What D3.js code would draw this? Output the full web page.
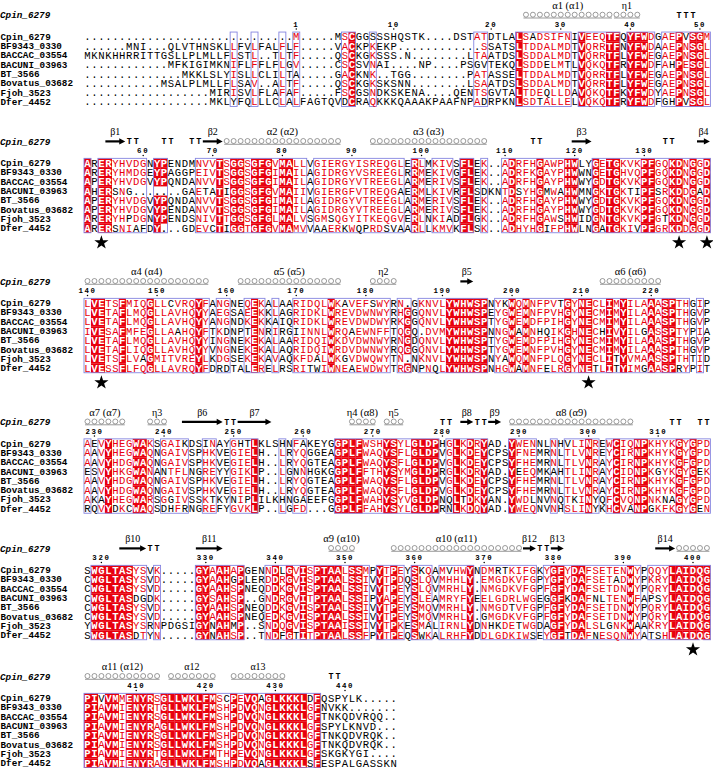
<!DOCTYPE html>
<html><head><meta charset="utf-8">
<script src="https://cdn.jsdelivr.net/npm/d3@7"></script>
<style>body{margin:0;background:#fff}svg{display:block}</style>
</head><body><svg id="c" width="713" height="768"></svg>
<script>
// ---------------- data ----------------
const names = ["Cpin_6279","BF9343_0330","BACCAC_03554","BACUNI_03963","BT_3566","Bovatus_03682","Fjoh_3523","Dfer_4452"];
const refName = "Cpin_6279";

const block1 = [
"..............................M.....MSCGGSSSHQSTK....DSTATDTLALSADSIFNIVEEQTFQYFWDGAEPVSGM",
"......MNI...QLVTHNSKLLFVLFALFLF.....VACKPKEKP............SSATSLTDDALMDTVQRRTFNYFWDAAEPNSGL",
"MKNKHHRRITTGSLLPLMLLFLSTL..TLTF.....QSCKGKSSS.N........LTAATDSLSDDALMDTVQRRTFLYFWEGAEPNSGL",
"............MFKIGIMKNIFLFFLFLGV.....CSCSVNAI....NP....PSGVTEKQLSDDELMTLVQKQTFRYFWDFAHPESGL",
"..............MKKLSLYISLLCLILTA.....GACKNK..TGG........PATASSELTDDALMDTVQRRTFLYFWEGAEPNSGL",
"...........MSALPLMLLFLSAV..ALTF.....QSCKGKSKSNN........LSAATDSLSDDALMDTVQRRTFLYFWEGAEPNSGL",
"..................MIRISVLFLAFAF.....FSCGSNDKSKENA....QENTSGVTALTDEQLLDAVQKQTFKYFWDYAEPNSGL",
"..................MKLYFQLLLCLALFAGTQVDCRAQKKKQAAAKPAAFNPADRPKNLSDTALLELVQKQTFRYFWDFGHPVSGL"];
const block2 = [
"ARERYHVDGNYPENDMNVVTSGGSGFGVMALLVGIERGYISREQGLERLMKIVSFLEK..ADRFHGAWPHWLYGETGKVKPFGQKDNGGD",
"ARERYHMDGEYPAGGPEIVTSGGSGFGIMAILAGIDRGYVSREEGLRRMEKIVGFLEK..ADRFKGAYPHWWNGETGHVQPFGQKDNGGD",
"APERYHVDGVYPQNDANVVTSGGSGFGIMAILAGIDRGYVTREEGLARMERIVSFLEK..ADRFHGAYPHWWYGDTGKVKPFGQKDNGGD",
"AHERSNG.......GAETATIGGSGFGVMAIIVGIERGFVTREQGAERMLKIVRFLSDKNTDSYHGMWAHWMNGKTGKTIPFSRKDDGAD",
"APERYHVDGVYPQNDANVVTSGGSGFGIMAILAGIDRGYVTREEGLARMERIVSFLEK..ADRFHGAYPHWWYGDTGKVKPFGQKDNGGD",
"APERYHVDGVYPENDANVVTSGGSGFGIMAILAGIDRGYVTREEGLARMERIVSFLEK..ADRFHGAYPHWWYGDTGKVKPFGQKDNGGD",
"ARERYHPDGNYPENDSNIVTTGGSGFGLMALVSGMSQGYITKEQGVERLNKIADFLGK..ADRFHGAWSHWIDGNTGKVKPFGTKDNGGD",
"ARERSNIAFDY...GDEVCTIGGTGFGVMAMVVAAERKWQPRDSVAARLLKMVKFLSK..ADHYHGIFPHWLNGATGKIVPFGRKDDGGD"];
const block3 = [
"LVETSFMIQGLLCVRQYFANGNEQEKALAARIDQLWKAVEFSWYRN.GKNVLYWHWSPNYKWQMNFPVTGYNECLIMYILAAASPTHGIP",
"LVETAFLMQGLLAVHQYYAEGSAEEKKLAGRIDKLWREVDWNWYRHGGQNVLYWHWSPEYGWEMNFPVHGYNECMIMYILAAASPTHGVP",
"LVETAFLMQGLLAVHQYYANGNDKEKKAIQRIDKLWREVDWDWYRKGGQNVLYWHWSPTYGWEMDFPIHGYNECMIMYILAAASPTHGVP",
"IVESAFMFEGLLAAHQYFTKDNPTENRIRGIINNLWRQAEWNFFTQGQ.DVMYWHWSPNNGWAMNHQIKGHNECHIVYILGASSPTYPIA",
"LVETAFLMQGLLAVHQYYINGNEKEKALAARIDQIWKDVDWNWYRNGDQNVLYWHWSPTYGWEMDFPIHGYNECMIMYILAAASPTHGVP",
"LVETAFLIQGLLAVHQYYVNGNEKEKALAQRIDQIWRDVDWNWYRQGGQNVLYWHWSPTYGWEMNFPVHGYNECMIMYILAAASPTHGVP",
"LVETSFLVAGMITVREYLKDGSEKEKAVAQKFDALWKGVDWQWYTN.NKNVLYWHWSPNYAWQMNFPLQGYNECLITYVMAASSPTHTID",
"LVESSFLFQGLLAVRQYFDRDTALERELRSRITWIWNEAEWDWYTRGNPNQLYWHWSPNHGWAMNFELRGYNETLITYIMGAASPRYPIT"];
const block4 = [
"AEVYHEGWAKSGAIKDSINAYGHTLKLSHNFAKEYGGPLFWSHYSYLGLDPHGLKDRYAD.YWENNLNHVLINREWCIQNPKHYKGYGPD",
"AAVYHEGWAQNGAIVSPHKVEGIELH..LRYQGGEAGPLFWAQYSFLGLDPVGLKDEYCPSYFNEMRNLTLVNREYCIRNPKHYKGYGPD",
"AAVYHDGWAQNGAIVSPHKVEGIELH..LRYQGTEAGPLFWAQYSFLGLDPVGLKDEYCPSYFHEMRNLTLVNRAYCIRNPKHYKGFGPD",
"ESVYHKGWANANTFLNGREYYGIKLP..LGNNHGKGGPLFFTHYSYMGLDPRGLKDRYAD.YEEQMKAHTLINRAYCIDNPKGYKGYGEK",
"AAVYHDGWAQNGAIVSPHKVEGIELH..LRYQGTEAGPLFWAQYSFLGLDPVGLKDEYCPSYFHEMRNLTLVNRAYCIRNPKHYKGFGPD",
"AAVYHDGWAQNGAIVSPHKVEGIELH..LRYQGTEAGPLFWAQYSFLGLDPVGLKDEYCPSYFHEMRNLTLVNRAYCIRNPKHYKGFGPD",
"AKAYHEGWARSGGIVSSKTKYNIPLILKHNGAEEFGGPLFWAHYSYVGLDPNQLTDKYAN.YWDLNVNQTKINYQFCVQNPNKNAGYGPD",
"RQVYDKCWAQSDHFRNGREFYGVKLP..LGFD...GGPLFFAHYSYLGLDPRNLKDQYAD.YWEQNVNHSLINYKHCVANPGKFKGYGEN"];
const block5 = [
"SWGLTASYSVK.....GYAAHAPGENNDLGVISPTAALSSMPYTPEYSKQAMVHWYNDMRTKIFGKYGFYDAFSETENWYPQQYLAIDQG",
"CWGLTASYSVD.....GYAAHGPLERDDRGVISPTAALSSIVYTPDQSLQVMHHLY.EMGDKVFGPYGFYDAFSETADWYPKRYLAIDQG",
"CWGLTASYSVD.....GYAAHSPNEQDDKGVISPTAALSSIVYTPEYSLQVMRHLY.NMGDKVFGPFGFYDAFSETDNWYPQRYLAIDQG",
"CWGLTASDGDK.....GYSAHSP..GNDRGVITPTAALSSIPYAPEYSLEAMRYFYEELGDRLWGEGGFKDAFNLTENWFAPSYLAIDQG",
"CWGLTASYSVD.....GYAAHSPNEQDDKGVISPTAALSSIVYTPEYSMQVMRHLY.NMGDTVFGPFGFYDAFSETDNWYPQRYLAIDQG",
"CWGLTASYSVD.....GYAAHSPNEQEDKGVISPTAALSSIVYTPEYSMQVMRHLY.GMGDKVFGPFGFYDAFSETDNWYPQRYLAIDQG",
"YWGLTASYSRNPDGSIGYNAHMP..SNDQGVISPTAAISSIVYTPKESMALIRNLYDNHKDETWGDAGFYDALSLGNKWAAKRYLAIDQG",
"SWGLTASDTYN.....GYNAHSP..TNDFGTITPTAALSSFPYTPEQSWKALRHFYDDLGDKIWSEYGFTDAFNESQNWYATSHLAIDQG"];
const block6 = [
"PIVVMMENYRSGLLWKLFMSCPEVQAGLKKKLDFQSPYLK.....",
"PIAVMIENYRTGLLWKLFMSHPDVQNGLKKKLGFNVKK.......",
"PIAVMIENYRSGLLWKLFMSHPDVQNGLKKKLGFTNKQDVRQQ..",
"PIAVMIENYRAGLLWKLFMSHPDVQNGLKKKLGFSPYLKNVD...",
"PIAVMIENYRSGLLWKLFMSHPDVQNGLKKKLGFTNKQDVRQK..",
"PIAVMIENYRSGLLWKLFMSHPDVQNGLKKKLGFTNKQDVRQK..",
"PIAVMIENYRTGLLWKLFMTHPEVQNGLKKKLGFSKGKYGI....",
"PIAVMIENYRAGLLWKLFMSHPDVQAGLKKKLSFESPALGASSKN"];
const blocks = [block1, block2, block3, block4, block5, block6];

// secondary structure of Cpin_6279 (alignment column indices, 90 columns per line)
const ssTypes  = ["helix","eta","turn","strand","turn","turn","turn","strand","helix","helix","turn","strand","turn","strand",
                  "helix","helix","eta","strand","helix",
                  "helix","eta","strand","turn","strand","eta","eta","turn","strand","turn","strand","helix","turn","turn",
                  "strand","turn","strand","helix","helix","strand","turn","strand","strand","helix",
                  "helix","helix","helix","turn"];
const ssLabels = ["α1 (α1)","η1","","β1","","","","β2","α2 (α2)","α3 (α3)","","β3","","β4",
                  "α4 (α4)","α5 (α5)","η2","β5","α6 (α6)",
                  "α7 (α7)","η3","β6","","β7","η4 (α8)","η5","","β8","","β9","α8 (α9)","","",
                  "β10","","β11","α9 (α10)","α10 (α11)","β12","","β13","β14","",
                  "α11 (α12)","α12","α13",""];
const ssStart  = [63,76,85,93,96,101,105,107,110,131,154,160,173,178,
                  180,202,221,234,254,
                  270,279,284,290,292,308,313,321,324,326,328,331,354,358,
                  365,369,376,395,404,423,425,427,442,445,
                  450,462,471,485];
const ssEnd    = [75,79,87,95,97,102,106,109,126,147,155,162,174,179,
                  197,216,224,235,262,
                  275,281,289,291,296,311,315,322,325,327,329,348,355,359,
                  368,370,379,398,422,424,426,428,444,449,
                  460,468,478,486];
// strictly conserved functional residues marked with a star (alignment columns)
const starCols = [92,175,179,182,252,447];
// similarity groups used for the column conservation score
const simGroups = ["STA","NEQK","NHQK","NDEQ","QHRK","MILV","MILF","HY","FYW"];
const simThreshold = 0.7;

// ---------------- layout ----------------
const W = 713, H = 768, PER_LINE = 90;
const firstRowY = [36.7, 163, 303, 443.5, 570, 698];
const rowH = 9.3;
const RED = "#e8000e", FRAME = "#8585e0";
const MONO = "'Liberation Mono','DejaVu Sans Mono',monospace";
const SERIF = "'Liberation Serif','DejaVu Serif',serif";

const svg = d3.select("#c");
svg.append("rect").attr("width", W).attr("height", H).attr("fill", "#fff");

const x = d3.scaleLinear().domain([0, PER_LINE]).range([84, 84 + PER_LINE * 6.96]);
const cw = x(1) - x(0);
const cx = c => x(c + 0.5);

function isSimilar(a, b) {
  return a === b || simGroups.some(g => g.includes(a) && g.includes(b));
}
function classify(chars) {
  const res = chars.filter(c => c !== '.');
  if (res.length >= 6 && res.every(c => c === res[0])) return {cls: 2, red: new Set([res[0]])};
  let best = null, bestCount = 0;
  for (const ctr of new Set(res)) {
    const m = res.filter(c => isSimilar(c, ctr)).length;
    if (m > bestCount) { bestCount = m; best = ctr; }
  }
  if (best && bestCount / chars.length >= simThreshold)
    return {cls: 1, red: new Set(res.filter(c => isSimilar(c, best)))};
  return {cls: 0, red: new Set()};
}

// residue numbering of the reference sequence
let resNo = 0;
const numbering = [];
blocks.forEach((blk, b) => {
  [...blk[0]].forEach((ch, c) => {
    if (ch !== '.') {
      resNo++;
      if (resNo === 1 || resNo % 10 === 0) numbering.push({g: b * PER_LINE + c, n: resNo});
    }
  });
});

const ss = ssTypes.map((t, i) => ({type: t, label: ssLabels[i], start: ssStart[i], end: ssEnd[i]}));

blocks.forEach((blk, b) => {
  const y0 = firstRowY[b];
  const y = d3.scaleLinear().domain([0, 1]).range([y0, y0 + rowH]);
  const gB = svg.append("g");
  const len = blk[0].length;
  const cols = d3.range(len).map(c => classify(blk.map(s => s[c])));
  const ssY = y0 - 21.6;

  // header name
  gB.append("text").attr("x", 0).attr("y", ssY + 3.2).text(refName)
    .attr("font-family", MONO).attr("font-size", 9.3).attr("font-weight", "bold").attr("font-style", "italic");

  // numbering
  numbering.filter(d => Math.floor(d.g / PER_LINE) === b).forEach(d => {
    const c = d.g % PER_LINE;
    gB.append("text").attr("x", cx(c)).attr("y", y0 - 9.6).attr("text-anchor", "middle")
      .attr("font-family", MONO).attr("font-size", 7.4).attr("font-weight", "bold").attr("letter-spacing", 1.6)
      .text(d.n);
    gB.append("circle").attr("cx", cx(c)).attr("cy", y0 - 7.6).attr("r", 0.75).attr("fill", "#000");
  });

  // secondary structure
  ss.filter(d => Math.floor(d.start / PER_LINE) === b).forEach(d => {
    const s = d.start % PER_LINE, e = d.end % PER_LINE;
    if (d.type === "helix" || d.type === "eta") {
      const path = d3.path();
      for (let c = s; c <= e; c++) {
        const xc = cx(c);
        // one loop of the helical spring per residue
        path.moveTo(xc + 2.5, ssY - 0.4);
        path.arc(xc, ssY - 0.4, 2.5, 0, 2 * Math.PI);
      }
      path.moveTo(x(s) + 1, ssY + 2.9); path.lineTo(x(e + 1) - 1, ssY + 2.9);
      gB.append("path").attr("d", path.toString()).attr("fill", "none").attr("stroke", "#707070").attr("stroke-width", 0.7);
    } else if (d.type === "strand") {
      const x1 = x(s) + 0.5, x2 = x(e + 1) - 0.5;
      gB.append("line").attr("x1", x1).attr("x2", x2 - 5).attr("y1", ssY).attr("y2", ssY)
        .attr("stroke", "#000").attr("stroke-width", 2.2);
      gB.append("path").attr("d", `M${x2 - 6},${ssY - 3.2}L${x2},${ssY}L${x2 - 6},${ssY + 3.2}Z`).attr("fill", "#000");
    } else if (d.type === "turn") {
      for (let c = s; c <= e; c++)
        gB.append("text").attr("x", cx(c)).attr("y", ssY + 3).attr("text-anchor", "middle")
          .attr("font-family", MONO).attr("font-size", 8.4).attr("font-weight", "bold").text("T");
    }
    if (d.label) {
      gB.append("text").attr("x", (x(s) + x(e + 1)) / 2).attr("y", ssY - 6.2).attr("text-anchor", "middle")
        .attr("font-family", SERIF).attr("font-size", d.label.length > 3 ? 10.5 : 10).text(d.label);
    }
  });

  // red fills for strictly identical columns
  cols.forEach((cl, c) => {
    if (cl.cls !== 2) return;
    blk.forEach((s, i) => {
      if (s[c] === '.') return;
      gB.append("rect").attr("x", x(c)).attr("y", y(i) - rowH / 2).attr("width", cw + 0.15).attr("height", rowH + 0.15)
        .attr("fill", RED);
    });
  });

  // blue frames around runs of similar columns
  let runStart = null;
  for (let c = 0; c <= len; c++) {
    const on = c < len && cols[c].cls >= 1;
    if (on && runStart === null) runStart = c;
    if (!on && runStart !== null) {
      gB.append("rect").attr("x", x(runStart)).attr("y", y(0) - rowH / 2)
        .attr("width", x(c) - x(runStart)).attr("height", rowH * blk.length)
        .attr("fill", "none").attr("stroke", FRAME).attr("stroke-width", 0.9);
      runStart = null;
    }
  }

  // names and residues
  blk.forEach((s, i) => {
    gB.append("text").attr("x", 0.5).attr("y", y(i) + 3.1).text(names[i])
      .attr("font-family", MONO).attr("font-size", 9.3).attr("font-weight", "bold");
    gB.selectAll(null).data([...s]).join("text")
      .attr("x", (ch, c) => cx(c)).attr("y", y(i) + 3.6).attr("text-anchor", "middle")
      .attr("font-family", MONO).attr("font-size", 10.6)
      .attr("fill", (ch, c) => {
        if (ch === '.') return "#000";
        if (cols[c].cls === 2) return "#fff";
        if (cols[c].cls === 1 && cols[c].red.has(ch)) return RED;
        return "#000";
      })
      .attr("font-weight", (ch, c) => cols[c].cls === 2 ? "bold" : "normal")
      .text(ch => ch);
  });

  // stars
  starCols.filter(g => Math.floor(g / PER_LINE) === b).forEach(g => {
    gB.append("path").attr("d", d3.symbol(d3.symbolStar, 62)())
      .attr("transform", `translate(${cx(g % PER_LINE)},${y(blk.length - 1) + 14.5})`).attr("fill", "#000");
  });
});
</script></body></html>
